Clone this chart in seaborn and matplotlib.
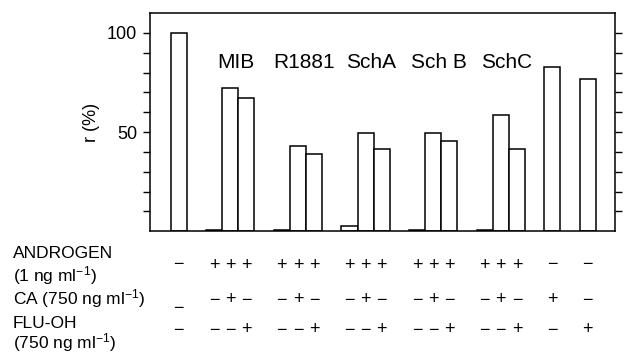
import matplotlib
matplotlib.use("Agg")
import matplotlib.pyplot as plt
import matplotlib.transforms as mtransforms
import seaborn as sns

# bar heights, r (%)
control = [100]
mib = [0.5, 72, 67]
r1881 = [0.5, 43, 39]
scha = [2.5, 49.5, 41.5]
schb = [0.5, 49.5, 45.5]
schc = [0.7, 58.5, 41.5]
ca_only = [83]
flu_only = [77]

group_names = ["", "MIB", "R1881", "SchA", "Sch B", "SchC", "", ""]
groups = [control, mib, r1881, scha, schb, schc, ca_only, flu_only]

# treatment table under the bars (one sign per bar)
androgen = ["−", "+", "+", "+", "+", "+", "+", "+", "+", "+", "+", "+", "+", "+", "+", "+", "−", "−"]
ca = ["_", "−", "+", "−", "−", "+", "−", "−", "+", "−", "−", "+", "−", "−", "+", "−", "+", "−"]
flu = ["−", "−", "−", "+", "−", "−", "+", "−", "−", "+", "−", "−", "+", "−", "−", "+", "−", "+"]

# bar positions: bars of a group touch, groups separated by a gap
gap = 1.2
pos, vals, centers = [], [], []
x = 0.0
for g in groups:
    xs = [x + i for i in range(len(g))]
    pos += xs
    vals += g
    centers.append(sum(xs) / len(xs))
    x = xs[-1] + 1 + gap

sns.set_style("ticks")
plt.rcParams["font.family"] = ["Liberation Sans", "DejaVu Sans"]
plt.rcParams["mathtext.fontset"] = "custom"
plt.rcParams["mathtext.rm"] = "Liberation Sans"
plt.rcParams["mathtext.it"] = "Liberation Sans"
plt.rcParams["text.color"] = "black"
plt.rcParams["axes.labelcolor"] = "black"
plt.rcParams["ytick.color"] = "black"
plt.rcParams["axes.edgecolor"] = "black"

fig = plt.figure(figsize=(6.27, 3.54), dpi=100)
ax = fig.add_axes([0.239, 0.347, 0.742, 0.616])

sns.barplot(x=pos, y=vals, native_scale=True, orient="x", width=1,
            color="white", edgecolor="black", linewidth=1.1,
            errorbar=None, ax=ax)

ax.set_xlim(pos[0] - 0.5 - 1.3, pos[-1] + 0.5 + 1.2)
ax.set_ylim(0, 110)
ax.set_xticks([])
ax.set_yticks(range(10, 101, 10))
ax.set_yticklabels(["50" if v == 50 else "100" if v == 100 else "" for v in range(10, 101, 10)])
ax.tick_params(axis="y", which="both", direction="out", length=5, width=1,
               right=True, left=True, labelsize=13, pad=4)
for s in ax.spines.values():
    s.set_visible(True)
    s.set_linewidth(1.1)
ax.set_ylabel("r (%)", fontsize=13, labelpad=5)
ax.set_xlabel("")

for name, c in zip(group_names, centers):
    if name:
        ax.text(c + 0.35, 85, name, ha="center", va="center", fontsize=15)

# table below the axes
trans = mtransforms.blended_transform_factory(ax.transData, fig.transFigure)
row_y = [1 - 265 / 354, 1 - 300 / 354, 1 - 330 / 354]
for signs, yy in zip([androgen, ca, flu], row_y):
    for p, s in zip(pos, signs):
        if s == "_":
            ax.text(p, yy - 8 / 354, "−", transform=trans, ha="center", va="center", fontsize=13)
        else:
            ax.text(p, yy, s, transform=trans, ha="center", va="center", fontsize=13)

lx = 13 / 627
fs = 12.5
fig.text(lx, 1 - 254 / 354, "ANDROGEN", va="center", fontsize=fs)
fig.text(lx, 1 - 276 / 354, "(1 ng ml$^{-1}$)", va="center", fontsize=fs)
fig.text(lx, 1 - 299 / 354, "CA (750 ng ml$^{-1}$)", va="center", fontsize=fs)
fig.text(lx, 1 - 324 / 354, "FLU-OH", va="center", fontsize=fs)
fig.text(lx, 1 - 343 / 354, "(750 ng ml$^{-1}$)", va="center", fontsize=fs)

fig.savefig("out.png", dpi=100)
